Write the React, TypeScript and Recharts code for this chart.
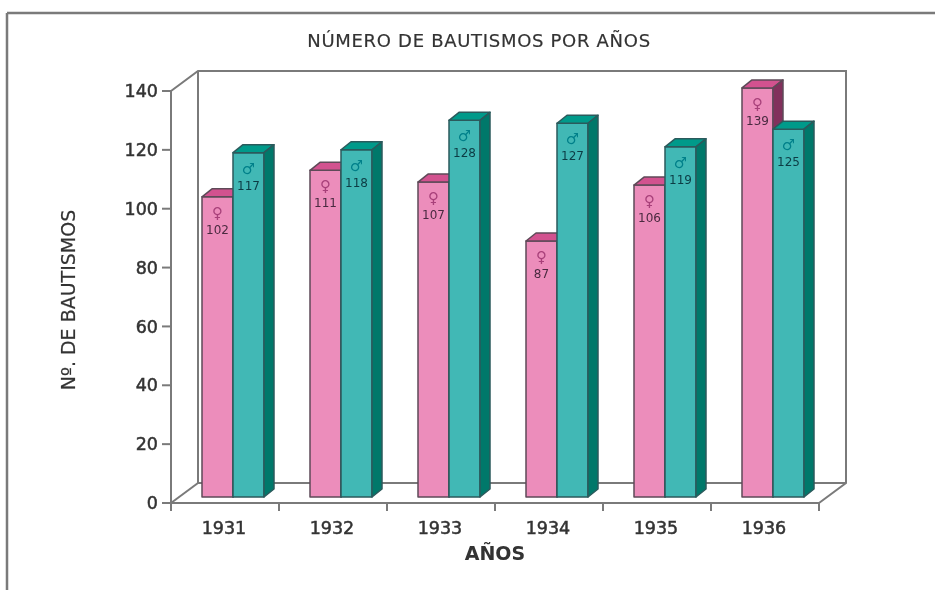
import React from 'react';
import { BarChart, Bar, XAxis, YAxis, LabelList } from 'recharts';

const years = ['1931', '1932', '1933', '1934', '1935', '1936'];
const female = [102, 111, 107, 87, 106, 139];
const male = [117, 118, 128, 127, 119, 125];
const yTicks = [0, 20, 40, 60, 80, 100, 120, 140];

const data = years.map((year, i) => ({ year, female: female[i], male: male[i] }));

const W = 935;
const H = 590;
const FONT = '"DejaVu Sans", Verdana, sans-serif';
const LINE = '#7a7a7a';
const TEXT = '#333';

// plot area in page pixels
const LEFT = 171;
const RIGHT = 819;
const TOP = 91;
const BOTTOM = 503;
const Y_AXIS_W = 60;
const X_AXIS_H = 60;
const BAND = (RIGHT - LEFT) / years.length;

// perspective of the walls and of the bars
const WALL_DX = 27;
const WALL_DY = -20;
const BAR_SHIFT_X = 8;
const BAR_SHIFT_Y = -6;
const DEPTH_X = 10;
const DEPTH_Y = -8;

const PINK = { front: '#ec8dbb', top: '#d2528f', side: '#82305c', edge: '#5e4a58', symbol: '#a8407a', text: '#4a2a40' };
const TEAL = { front: '#41b8b5', top: '#009a8a', side: '#00786a', edge: '#2b5a5c', symbol: '#00808a', text: '#0c3c44' };

const bar3d = (c: typeof PINK) => (props: any) => {
  const x = props.x + BAR_SHIFT_X;
  const y = props.y + BAR_SHIFT_Y;
  const { width: w, height: h } = props;
  const edge = { stroke: c.edge, strokeWidth: 1.5, strokeLinejoin: 'round' as const };
  return (
    <g>
      <rect x={x} y={y} width={w} height={h} fill={c.front} {...edge} />
      <polygon
        points={`${x},${y} ${x + DEPTH_X},${y + DEPTH_Y} ${x + w + DEPTH_X},${y + DEPTH_Y} ${x + w},${y}`}
        fill={c.top}
        {...edge}
      />
      <polygon
        points={`${x + w},${y} ${x + w + DEPTH_X},${y + DEPTH_Y} ${x + w + DEPTH_X},${y + h + DEPTH_Y} ${x + w},${y + h}`}
        fill={c.side}
        {...edge}
      />
    </g>
  );
};

const barLabel = (symbol: string, c: typeof PINK) => (props: any) => {
  const cx = props.x + props.width / 2 + BAR_SHIFT_X;
  const y = props.y + BAR_SHIFT_Y;
  return (
    <g fontFamily={FONT} textAnchor="middle">
      <text x={cx} y={y + 21} fontSize={15} fill={c.symbol}>{symbol}</text>
      <text x={cx} y={y + 37} fontSize={12} fill={c.text}>{props.value}</text>
    </g>
  );
};

const YearTick = (props: any) => {
  const { x, y, payload, index } = props;
  const left = x - BAND / 2;
  return (
    <g>
      <line x1={left} x2={left} y1={y - 8} y2={y} stroke={LINE} strokeWidth={2} />
      {index === years.length - 1 && (
        <line x1={left + BAND} x2={left + BAND} y1={y - 8} y2={y} stroke={LINE} strokeWidth={2} />
      )}
      <text
        x={x - 1}
        y={y + 23}
        textAnchor="middle"
        fontFamily={FONT}
        fontSize={17.5}
        stroke={TEXT}
        strokeWidth={0.5}
        fill={TEXT}
      >
        {payload.value}
      </text>
    </g>
  );
};

const Walls = () => {
  const backL = LEFT + WALL_DX;
  const backR = RIGHT + WALL_DX;
  const backT = TOP + WALL_DY;
  const backB = BOTTOM + WALL_DY;
  return (
    <g fill="none" stroke={LINE} strokeWidth={2}>
      <polyline points={`${LEFT},${TOP} ${backL},${backT} ${backR},${backT} ${backR},${backB} ${RIGHT},${BOTTOM}`} />
      <polyline points={`${backL},${backT} ${backL},${backB} ${backR},${backB}`} />
      <line x1={LEFT} y1={BOTTOM} x2={backL} y2={backB} />
    </g>
  );
};

export default function App() {
  return (
    <div style={{ position: 'absolute', left: 0, top: 0, width: W, height: H, background: '#fff', filter: 'blur(0.5px)' }}>
      <BarChart
        width={W}
        height={H}
        data={data}
        barSize={31}
        barGap={0}
        margin={{ left: LEFT - Y_AXIS_W, right: W - RIGHT, top: TOP, bottom: H - BOTTOM - X_AXIS_H }}
      >
        <line x1={7} y1={13} x2={W} y2={13} stroke={LINE} strokeWidth={2.5} />
        <line x1={7} y1={13} x2={7} y2={H} stroke={LINE} strokeWidth={2.5} />
        <Walls />
        <text
          x={479}
          y={47}
          textAnchor="middle"
          fontFamily={FONT}
          fontSize={18}
          letterSpacing={0.7}
          stroke={TEXT}
          strokeWidth={0.2}
          fill={TEXT}
        >
          NÚMERO DE BAUTISMOS POR AÑOS
        </text>
        <text
          x={75}
          y={300}
          textAnchor="middle"
          transform="rotate(-90 75 300)"
          fontFamily={FONT}
          fontSize={19}
          stroke={TEXT}
          strokeWidth={0.2}
          fill={TEXT}
        >
          Nº. DE BAUTISMOS
        </text>
        <text x={495} y={560} textAnchor="middle" fontFamily={FONT} fontSize={19} fontWeight={700} fill={TEXT}>
          AÑOS
        </text>
        <XAxis
          dataKey="year"
          height={X_AXIS_H}
          interval={0}
          axisLine={{ stroke: LINE, strokeWidth: 2 }}
          tickLine={false}
          tick={<YearTick />}
        />
        <YAxis
          width={Y_AXIS_W}
          domain={[0, 140]}
          ticks={yTicks}
          interval={0}
          tickSize={9}
          tickMargin={4}
          axisLine={{ stroke: LINE, strokeWidth: 2 }}
          tickLine={{ stroke: LINE, strokeWidth: 2 }}
          tick={{ fontFamily: FONT, fontSize: 17.5, stroke: TEXT, strokeWidth: 0.5, fill: TEXT }}
        />
        <Bar dataKey="female" shape={bar3d(PINK)} isAnimationActive={false}>
          <LabelList dataKey="female" content={barLabel('♀', PINK)} />
        </Bar>
        <Bar dataKey="male" shape={bar3d(TEAL)} isAnimationActive={false}>
          <LabelList dataKey="male" content={barLabel('♂', TEAL)} />
        </Bar>
      </BarChart>
    </div>
  );
}
